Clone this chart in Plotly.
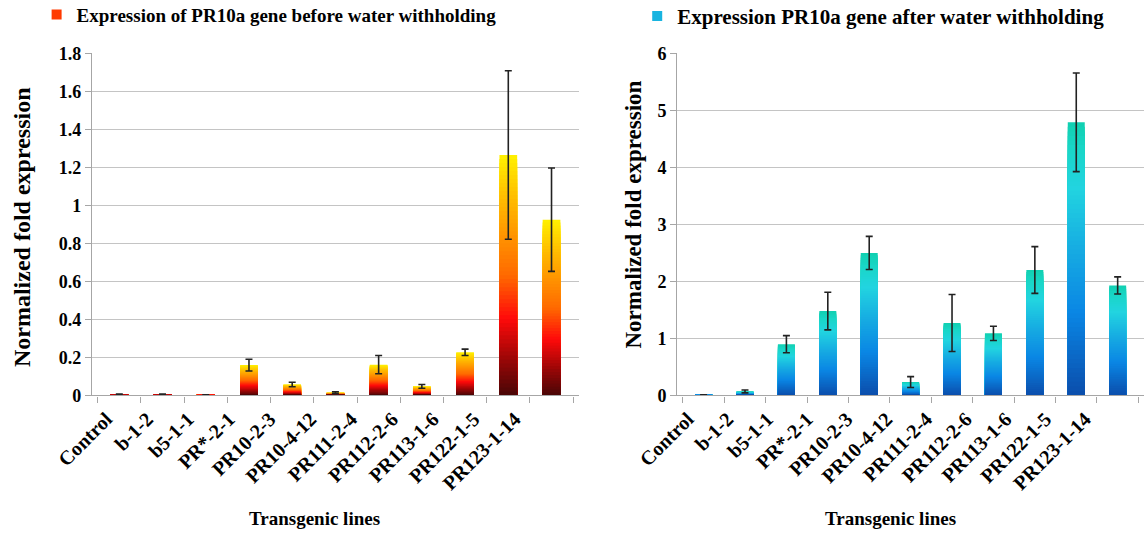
import plotly.graph_objects as go
from plotly.colors import sample_colorscale

categories = ["Control", "b-1-2", "b5-1-1", "PR*-2-1", "PR10-2-3", "PR10-4-12",
              "PR111-2-4", "PR112-2-6", "PR113-1-6", "PR122-1-5", "PR123-1-14"]
before_values = [0.005, 0.005, 0.003, 0.16, 0.058, 0.015, 0.162, 0.048, 0.227, 1.265, 0.925]
before_errors = [0.002, 0.002, 0.001, 0.031, 0.012, 0.005, 0.048, 0.010, 0.017, 0.443, 0.272]
after_values = [0.01, 0.07, 0.90, 1.48, 2.50, 0.235, 1.27, 1.09, 2.20, 4.79, 1.93]
after_errors = [0.004, 0.025, 0.15, 0.33, 0.29, 0.095, 0.50, 0.125, 0.41, 0.865, 0.15]

before_name = "Expression of PR10a gene before water withholding"
after_name = "Expression PR10a gene after water withholding"

warm_scale = [[0.0, "#480606"], [0.15, "#9a0606"], [0.32, "#ff0a0a"], [0.5, "#ff6a00"],
              [0.68, "#ff9800"], [0.85, "#ffc400"], [1.0, "#fff200"]]
cool_scale = [[0.0, "#0b4dab"], [0.3, "#0a86e4"], [0.55, "#17aee2"], [0.76, "#22d4e0"],
              [0.9, "#1ad6c8"], [1.0, "#10d0b0"]]

FONT = "Liberation Serif"
N = 60

fig = go.Figure()


def add_gradient_bars(values, errors, scale, xa, ya, label_x, label_y):
    for k in range(N):
        frac = 1 - k / N
        col = sample_colorscale(scale, [max(frac - 0.5 / N, 0)])[0]
        fig.add_trace(go.Bar(
            x=categories, y=[v * frac for v in values],
            marker=dict(color=col, line=dict(width=0)),
            showlegend=False, hoverinfo="skip", xaxis=xa, yaxis=ya))
    fig.add_trace(go.Scatter(
        x=categories, y=values, mode="markers",
        marker=dict(size=1, color="rgba(0,0,0,0)"),
        error_y=dict(type="data", array=errors, visible=True,
                     color="#222222", thickness=1.6, width=3.5),
        showlegend=False, xaxis=xa, yaxis=ya))
    # invisible carrier for the category tick-label axis
    fig.add_trace(go.Scatter(
        x=categories, y=values, mode="markers",
        marker=dict(size=1, color="rgba(0,0,0,0)"),
        showlegend=False, hoverinfo="skip", xaxis=label_x, yaxis=label_y))


add_gradient_bars(before_values, before_errors, warm_scale, "x", "y", "x3", "y3")
add_gradient_bars(after_values, after_errors, cool_scale, "x2", "y2", "x4", "y4")

fig.add_trace(go.Scatter(x=[None], y=[None], mode="markers", name=before_name,
                         marker=dict(symbol="square", size=10, color="#ff3a00"),
                         legend="legend", xaxis="x", yaxis="y"))
fig.add_trace(go.Scatter(x=[None], y=[None], mode="markers", name=after_name,
                         marker=dict(symbol="square", size=10, color="#18b4e0"),
                         legend="legend2", xaxis="x2", yaxis="y2"))

grid = "#c4c4c4"
axis_line = "#a6a6a6"

xcommon = dict(type="category", categoryorder="array", categoryarray=categories,
               showticklabels=False,
               showline=True, linecolor=axis_line, linewidth=1.2,
               ticks="outside", tickson="boundaries", ticklen=6, tickcolor=axis_line,
               showgrid=False, zeroline=False, automargin=False)
xlabels = dict(type="category", categoryorder="array", categoryarray=categories,
               range=[-0.5, len(categories) - 0.5], ticklabelstandoff=7,
               tickangle=-45, tickfont=dict(family=FONT, size=20, color="black", weight="bold"),
               showline=False, ticks="", showgrid=False, zeroline=False, automargin=False)
ycommon = dict(tickfont=dict(family=FONT, size=18, color="black", weight="bold"),
               showline=True, linecolor=axis_line, linewidth=1.2,
               ticks="outside", ticklen=6, tickcolor=axis_line,
               showgrid=True, gridcolor=grid, gridwidth=1.3, zeroline=False,
               automargin=False)
yhidden = dict(visible=False, showgrid=False, zeroline=False, automargin=False)

fig.update_layout(
    width=1144, height=533,
    margin=dict(l=0, r=0, t=0, b=0, autoexpand=False),
    paper_bgcolor="white", plot_bgcolor="rgba(0,0,0,0)",
    barmode="overlay", bargap=0.59,
    xaxis=dict(domain=[0.0804, 0.506], anchor="y", **xcommon),
    yaxis=dict(domain=[0.258, 0.9], anchor="x", range=[0, 1.8], dtick=0.2, **ycommon),
    xaxis2=dict(domain=[0.592, 1.0], anchor="y2", **xcommon),
    yaxis2=dict(domain=[0.258, 0.9], anchor="x2", range=[0, 6], dtick=1, **ycommon),
    xaxis3=dict(domain=[0.0752, 0.4677], anchor="y3", **xlabels),
    yaxis3=dict(domain=[0.258, 0.9], anchor="x3", range=[0, 1.8], **yhidden),
    xaxis4=dict(domain=[0.5839, 0.9659], anchor="y4", **xlabels),
    yaxis4=dict(domain=[0.258, 0.9], anchor="x4", range=[0, 6], **yhidden),
    legend=dict(x=0.032, y=1.008, xanchor="left", yanchor="top", itemwidth=30,
                bgcolor="rgba(0,0,0,0)",
                font=dict(family=FONT, size=19, color="black", weight="bold")),
    legend2=dict(x=0.557, y=1.008, xanchor="left", yanchor="top", itemwidth=30,
                 bgcolor="rgba(0,0,0,0)",
                 font=dict(family=FONT, size=21, color="black", weight="bold")),
    showlegend=True,
)

title_font = dict(family=FONT, color="black", weight="bold")
anno = dict(xref="paper", yref="paper", showarrow=False, xanchor="center", yanchor="middle")
fig.add_annotation(text="Normalized fold expression", x=0.0192, y=0.574, textangle=-90,
                   font=dict(size=24, **title_font), **anno)
fig.add_annotation(text="Normalized fold expression", x=0.554, y=0.597, textangle=-90,
                   font=dict(size=23, **title_font), **anno)
fig.add_annotation(text="Transgenic lines", x=0.275, y=0.028,
                   font=dict(size=19, **title_font), **anno)
fig.add_annotation(text="Transgenic lines", x=0.778, y=0.028,
                   font=dict(size=19, **title_font), **anno)

fig.write_html("out.html", config={"displayModeBar": False},
               post_script="document.body.style.margin='0';")
